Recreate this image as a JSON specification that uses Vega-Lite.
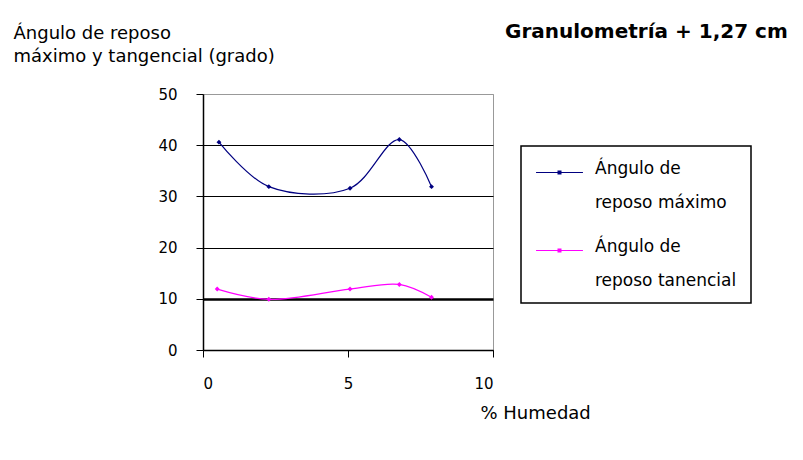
{
  "$schema": "https://vega.github.io/schema/vega-lite/v6.json",
  "autosize": "none",
  "width": 290,
  "height": 256,
  "padding": {"left": 203, "top": 94, "right": 310, "bottom": 110},
  "background": "white",
  "title": {
    "text": "Granulometría + 1,27 cm",
    "font": "DejaVu Sans",
    "fontSize": 20,
    "fontWeight": "bold",
    "color": "black",
    "anchor": "start",
    "dx": 492,
    "dy": 22,
    "offset": 4
  },
  "config": {
    "view": {"stroke": "#999999", "strokeWidth": 1},
    "font": "DejaVu Sans"
  },
  "data": {
    "values": [
      {"h": 0.55, "ang": 40.6, "serie": "Ángulo de reposo máximo"},
      {"h": 2.27, "ang": 31.9, "serie": "Ángulo de reposo máximo"},
      {"h": 5.07, "ang": 31.6, "serie": "Ángulo de reposo máximo"},
      {"h": 6.77, "ang": 41.1, "serie": "Ángulo de reposo máximo"},
      {"h": 7.88, "ang": 31.9, "serie": "Ángulo de reposo máximo"},
      {"h": 0.49, "ang": 11.9, "serie": "Ángulo de reposo tanencial"},
      {"h": 2.27, "ang": 9.9, "serie": "Ángulo de reposo tanencial"},
      {"h": 5.07, "ang": 11.9, "serie": "Ángulo de reposo tanencial"},
      {"h": 6.77, "ang": 12.8, "serie": "Ángulo de reposo tanencial"},
      {"h": 7.88, "ang": 10.3, "serie": "Ángulo de reposo tanencial"}
    ]
  },
  "mark": {
    "type": "line",
    "interpolate": "catmull-rom",
    "strokeWidth": 1.2,
    "point": {"filled": true, "shape": "diamond", "size": 24}
  },
  "encoding": {
    "x": {
      "field": "h",
      "type": "quantitative",
      "scale": {"domain": [0, 10]},
      "axis": {
        "values": [0, 5, 10],
        "title": "% Humedad",
        "titleFont": "DejaVu Sans",
        "titleFontSize": 18,
        "titleFontWeight": "normal",
        "titleColor": "black",
        "titleAlign": "left",
        "titleBaseline": "alphabetic",
        "titleX": 277,
        "titleY": 68,
        "labelFont": "DejaVu Sans",
        "labelFontSize": 15,
        "labelColor": "black",
        "labelPadding": 19,
        "tickSize": 7,
        "tickColor": "black",
        "domainColor": "black",
        "domainWidth": 1.5,
        "grid": false
      }
    },
    "y": {
      "field": "ang",
      "type": "quantitative",
      "scale": {"domain": [0, 50]},
      "axis": {
        "values": [0, 10, 20, 30, 40, 50],
        "title": ["Ángulo de reposo", "máximo y tangencial (grado)"],
        "titleFont": "DejaVu Sans",
        "titleFontSize": 18,
        "titleFontWeight": "normal",
        "titleColor": "black",
        "titleAngle": 0,
        "titleAlign": "left",
        "titleBaseline": "alphabetic",
        "titleLineHeight": 23,
        "titleX": -190,
        "titleY": -56,
        "labelFont": "DejaVu Sans",
        "labelFontSize": 15,
        "labelColor": "black",
        "labelPadding": 19,
        "tickSize": 7,
        "tickColor": "black",
        "domainColor": "black",
        "domainWidth": 1.5,
        "grid": true,
        "gridColor": {"condition": {"test": "datum.value === 50", "value": "#999999"}, "value": "black"},
        "gridWidth": {"condition": {"test": "datum.value === 10", "value": 2.5}, "value": 1},
        "gridOpacity": 1
      }
    },
    "color": {
      "field": "serie",
      "type": "nominal",
      "scale": {"domain": ["Ángulo de reposo máximo", "Ángulo de reposo tanencial"], "range": ["#000080", "#FF00FF"]},
      "legend": {
        "title": null,
        "orient": "none",
        "legendX": 318,
        "legendY": 52,
        "strokeColor": "black",
        "padding": 14,
        "labelExpr": "[slice(datum.label, 0, 9) + '\u00a0\u00a0\u00a0\u00a0\u00a0\u00a0\u00a0\u00a0', slice(datum.label, 10) + '\u00a0\u00a0\u00a0\u00a0\u00a0\u00a0\u00a0\u00a0']",
        "labelFont": "DejaVu Sans",
        "labelFontSize": 17,
        "labelColor": "black",
        "labelLimit": 400,
        "labelBaseline": "top",
        "labelOffset": 23,
        "symbolOffset": 12,
        "symbolType": "M-2,0H2M-0.12,-0.12H0.12V0.12H-0.12Z",
        "symbolSize": 550,
        "symbolStrokeWidth": 1.2,
        "rowPadding": 26,
        "encode": {
          "labels": {"update": {"lineHeight": {"value": 34}, "dy": {"value": -12}}},
          "legend": {"update": {"strokeWidth": {"value": 1.5}}}
        }
      }
    }
  }
}
